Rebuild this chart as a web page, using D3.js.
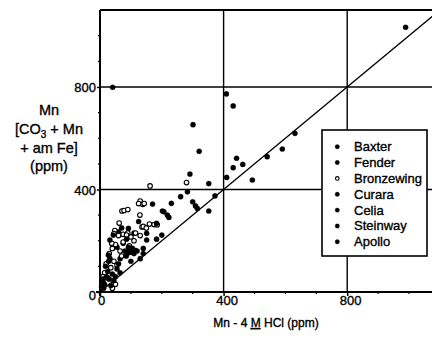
<!DOCTYPE html>
<html><head><meta charset="utf-8">
<script src="https://cdn.jsdelivr.net/npm/d3@7"></script>
<style>html,body{margin:0;padding:0;background:#fff;}svg{display:block;}</style>
</head><body>
<script>
// ---- data ----
const seriesNames = ["Baxter","Fender","Bronzewing","Curara","Celia","Steinway","Apollo"];
const xTicks = [0, 400, 800];
const yTicks = [0, 400, 800];
const xMinor = [100,200,300,500,600,700,900,1000];
const yMinor = [100,200,300,500,600,700,900,1000];
const baxter = [[989,1033],[631,619],[590,558],[541,528],[493,437],[462,498],[442,522],[431,485],[410,447],[352,423],[372,375],[352,316]];
const celia = [[409,773],[431,726],[301,653],[321,549],[291,460],[283,391],[261,372],[231,346],[300,352],[309,336],[315,326]];
const apollo = [[41,799],[170,343],[202,316],[207,313],[218,300],[223,291],[183,268],[200,222],[183,206],[151,203],[151,229],[140,170]];
const curara = [[80,160],[88,150],[95,165],[100,155],[105,170],[110,150],[115,162],[92,175],[85,140],[120,160],[92,248],[86,206],[43,222],[32,203],[27,144],[32,131]];
const steinway = [[10,40],[20,60],[5,20],[15,30],[30,50],[40,70],[25,80],[45,45],[12,15],[35,25],[50,60],[55,90],[8,50],[60,110],[18,100],[28,120],[65,75]];
const fender = [[70,250],[60,235],[110,230],[125,275],[75,190],[55,175],[100,120],[130,130],[140,150],[65,130]];
const bronzewing = [[162,414],[280,427],[130,355],[138,342],[125,345],[143,345],[71,316],[78,318],[90,322],[129,300],[62,269],[136,254],[140,256],[48,240],[45,228],[60,220],[90,230],[100,215],[115,230],[130,220],[75,195],[50,185],[40,170],[65,160],[30,150],[70,140],[45,120],[20,110],[55,105],[35,95],[15,75],[25,55],[50,30],[40,15],[10,60],[95,180],[110,200],[150,250],[160,265],[175,263],[185,262],[75,225],[86,222],[38,190]];
const seriesData = [baxter, fender, bronzewing, curara, celia, steinway, apollo];
const openSeries = ["Bronzewing"];

// ---- chart ----
const W = 432, H = 340;
const svg = d3.select("body").append("svg").attr("width", W).attr("height", H);
const x = d3.scaleLinear().domain([0, 1100]).range([100, 439.9]);
const y = d3.scaleLinear().domain([0, 1100]).range([292, 10.1]);
const font = "'Liberation Sans', Arial, sans-serif";
const heavy = sel => sel.attr("stroke", "#000").attr("stroke-width", 0.35);

// top border
svg.append("line").attr("x1", x(0)).attr("x2", W).attr("y1", y(1100)).attr("y2", y(1100))
  .attr("stroke", "#000").attr("stroke-width", 2);
// grid lines
yTicks.filter(d => d > 0).forEach(d => {
  svg.append("line").attr("x1", x(0)).attr("x2", W).attr("y1", y(d)).attr("y2", y(d))
    .attr("stroke", "#000").attr("stroke-width", 1.4);
});
xTicks.filter(d => d > 0).forEach(d => {
  svg.append("line").attr("x1", x(d)).attr("x2", x(d)).attr("y1", y(0)).attr("y2", y(1100))
    .attr("stroke", "#000").attr("stroke-width", 1.4);
});
// 1:1 line
svg.append("line").attr("x1", x(0)).attr("y1", y(0)).attr("x2", x(1100)).attr("y2", y(1100))
  .attr("stroke", "#000").attr("stroke-width", 1.3);

// points
seriesNames.forEach((name, i) => {
  const open = openSeries.includes(name);
  svg.append("g").selectAll("circle").data(seriesData[i]).join("circle")
    .attr("cx", d => x(d[0])).attr("cy", d => y(d[1]))
    .attr("r", open ? 2.3 : 2.6)
    .attr("fill", open ? "#fff" : "#000")
    .attr("stroke", "#000").attr("stroke-width", open ? 1.1 : 0.3);
});

// axes
const xAxisG = svg.append("g").attr("transform", `translate(0,${y(0)})`)
  .call(d3.axisBottom(x).tickValues(xTicks).tickSize(4).tickFormat(d3.format("d")));
const yAxisG = svg.append("g").attr("transform", `translate(${x(0)},0)`)
  .call(d3.axisLeft(y).tickValues(yTicks).tickSize(3).tickFormat(d3.format("d")));
[xAxisG, yAxisG].forEach(g => {
  g.select(".domain").remove();
  g.selectAll(".tick line").attr("stroke", "#000").attr("stroke-width", 1.5);
  g.selectAll(".tick text").attr("fill", "#000").style("font-family", font).style("font-size", "13px").call(heavy);
});
xAxisG.selectAll(".tick text").attr("dy", "0.5em").attr("dx", d => d === 0 ? 1 : 3).attr("y", 6);
yAxisG.selectAll(".tick text").attr("x", -4).attr("dy", d => d === 0 ? "0.55em" : "0.35em");
// axis lines
svg.append("line").attr("x1", x(0) - 4).attr("x2", W).attr("y1", y(0)).attr("y2", y(0))
  .attr("stroke", "#000").attr("stroke-width", 2);
svg.append("line").attr("x1", x(0)).attr("x2", x(0)).attr("y1", y(1100)).attr("y2", y(0) + 4)
  .attr("stroke", "#000").attr("stroke-width", 2);
// minor ticks
svg.append("g").selectAll("line").data(xMinor).join("line")
  .attr("x1", d => x(d)).attr("x2", d => x(d)).attr("y1", y(0) - 1).attr("y2", y(0) + 2)
  .attr("stroke", "#000").attr("stroke-width", 1.2);
svg.append("g").selectAll("line").data(yMinor).join("line")
  .attr("x1", x(0) - 2).attr("x2", x(0) + 1).attr("y1", d => y(d)).attr("y2", d => y(d))
  .attr("stroke", "#000").attr("stroke-width", 1.2);

// axis titles
const xt = svg.append("text").attr("x", 266).attr("y", 327).attr("text-anchor", "middle")
  .style("font-family", font).style("font-size", "12px").attr("fill", "#000").call(heavy);
xt.append("tspan").text("Mn - 4 ");
xt.append("tspan").attr("text-decoration", "underline").text("M");
xt.append("tspan").text(" HCl (ppm)");

const yt = svg.append("text").attr("text-anchor", "middle")
  .style("font-family", font).style("font-size", "14.5px").attr("fill", "#000").call(heavy);
yt.append("tspan").attr("x", 49).attr("y", 115).text("Mn");
const l2 = yt.append("tspan").attr("x", 49).attr("y", 134);
l2.append("tspan").text("[CO");
l2.append("tspan").attr("dy", 4).style("font-size", "10px").text("3");
l2.append("tspan").attr("dy", -4).text(" + Mn");
yt.append("tspan").attr("x", 49).attr("y", 153).text("+ am Fe]");
yt.append("tspan").attr("x", 49).attr("y", 171).text("(ppm)");

// legend
const lg = svg.append("g");
lg.append("rect").attr("x", 322).attr("y", 130).attr("width", 105).attr("height", 126)
  .attr("fill", "#fff").attr("stroke", "#000").attr("stroke-width", 1.6);
seriesNames.forEach((name, i) => {
  const cy = 146.7 + i * 15.85;
  const open = openSeries.includes(name);
  lg.append("circle").attr("cx", 337.3).attr("cy", cy).attr("r", open ? 1.8 : 2.2)
    .attr("fill", open ? "#fff" : "#000").attr("stroke", "#000").attr("stroke-width", open ? 1.1 : 0.3);
  lg.append("text").attr("x", 354).attr("y", cy + 4.5).text(name)
    .style("font-family", font).style("font-size", "13px").attr("fill", "#000").call(heavy);
});
</script>
</body></html>
